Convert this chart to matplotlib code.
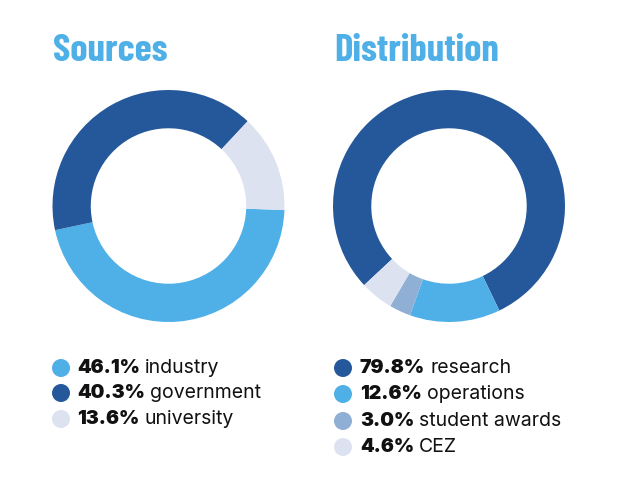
import matplotlib
matplotlib.use("Agg")
import matplotlib.pyplot as plt
import matplotlib.patches as mpatches

# Data
src_labels = ["industry", "government", "university"]
src_values = [46.1, 40.3, 13.6]
dist_labels = ["research", "operations", "student awards", "CEZ"]
dist_values = [79.8, 12.6, 3.0, 4.6]
titles = ["Sources", "Distribution"]

DARK = "#25589a"
LIGHT = "#4fb0e8"
PALE = "#dce2f0"
MID = "#8fb0d4"
src_colors = [LIGHT, DARK, PALE]
dist_colors = [DARK, LIGHT, MID, PALE]

W, H = 639, 501
fig = plt.figure(figsize=(W / 100, H / 100), dpi=100)
fig.patch.set_facecolor("white")

title_font = ["Barlow Condensed", "Roboto Condensed", "DejaVu Sans"]
legend_font = ["Inter", "DejaVu Sans"]


def donut(cx, cy, r, values, colors, start):
    ax = fig.add_axes([(cx - r) / W, (H - cy - r) / H, 2 * r / W, 2 * r / H])
    ax.pie(values, colors=colors, startangle=start, counterclock=False,
           radius=1.0, wedgeprops=dict(width=0.33, edgecolor="none", linewidth=0))
    ax.set_xlim(-1, 1)
    ax.set_ylim(-1, 1)
    ax.set_aspect("equal")
    ax.axis("off")


donut(168.5, 206, 116, src_values, src_colors, -2)
donut(449, 206, 116, dist_values, dist_colors, 223)

# Titles
fig.text(53 / W, 1 - 61 / H, titles[0], fontsize=28, fontweight="bold",
         color=LIGHT, family=title_font, ha="left", va="baseline")
fig.text(334 / W, 1 - 61 / H, titles[1], fontsize=28, fontweight="bold",
         color=LIGHT, family=title_font, ha="left", va="baseline")

renderer = fig.canvas.get_renderer()


def legend(x_dot, x_text, ys, values, labels, colors):
    for y, v, lab, c in zip(ys, values, labels, colors):
        fig.patches.append(mpatches.Ellipse(
            (x_dot / W, 1 - y / H), 18 / W, 18 / H, transform=fig.transFigure,
            facecolor=c, edgecolor="none"))
        t = fig.text(x_text / W, 1 - y / H, f"{v:.1f}%", fontsize=14,
                     fontweight="black", family=legend_font, color="#111111",
                     ha="left", va="center")
        bb = t.get_window_extent(renderer=renderer)
        fig.text((bb.x1 + 5) / W, 1 - y / H, lab, fontsize=14,
                 family=legend_font, color="#111111", ha="left", va="center")


legend(61, 77, [368, 393, 419], src_values, src_labels, src_colors)
legend(343, 360, [368, 394, 421, 447], dist_values, dist_labels, dist_colors)

fig.savefig("out.png", dpi=100, facecolor="white")
